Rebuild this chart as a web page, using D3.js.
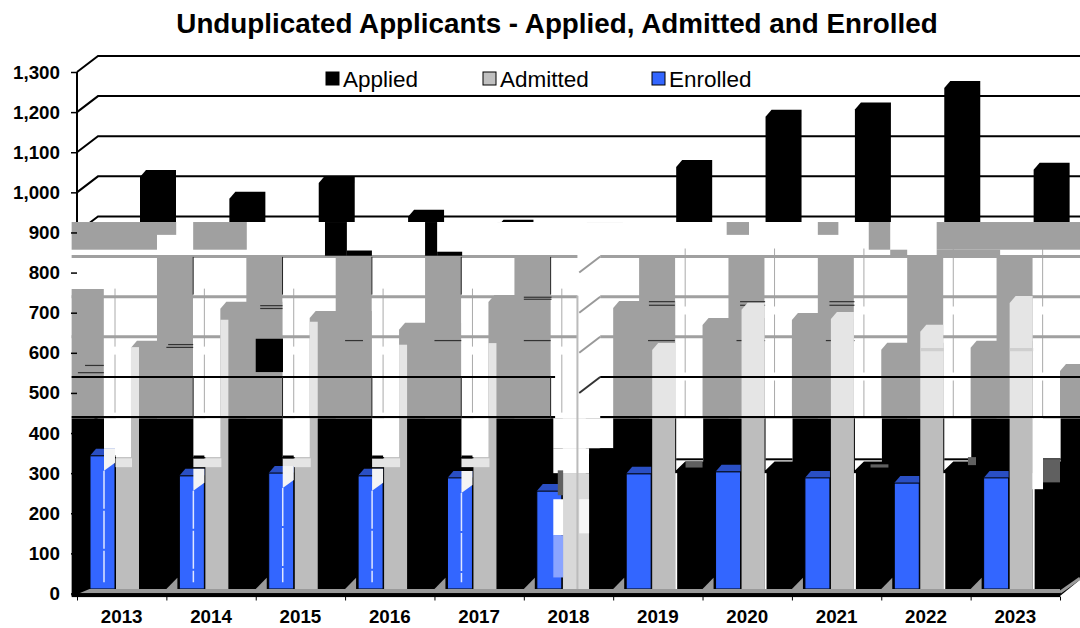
<!DOCTYPE html>
<html>
<head>
<meta charset="utf-8">
<script src="https://cdn.jsdelivr.net/npm/d3@7"></script>
<style>
body { margin: 0; background: #fff; }
text { font-family: "Liberation Sans", Arial, sans-serif; }
</style>
</head>
<body>
<div id="chart"></div>
<script>
const years = ['2013','2014','2015','2016','2017','2018','2019','2020','2021','2022','2023'];
const applied = [1027,973,1012,928,903,880,1052,1177,1195,1249,1045];
const admitted = [603,671,666,609,613,590,596,696,673,641,713];
const enrolled = [332,282,289,282,277,244,287,292,277,264,277];
const yTicks = [0,100,200,300,400,500,600,700,800,900,1000,1100,1200,1300];

// the source image is a corrupted redraw: these are what the glitch shows,
// read off the picture as category position / applicant count
const ghostTopsLeft = [630,727,704,675,744];
const ghostTopsRight = [729,687,699,625,630,572];
const grayPatches = [
  [-0.06,0.895,926,857],[0.895,1.11,926,894],[1.30,1.90,926,857],
  [7.27,7.52,926,894],[8.29,8.52,926,894],[8.86,9.10,926,857],[9.10,9.29,857,842],
  [9.62,11.23,926,857],[9.62,10.33,857,840],[-0.06,0.30,759,437]
];
const blackPatches = [
  [2.775,3.02,926,842],[3.02,3.30,855,842],[3.895,4.03,926,842],[4.03,4.31,852,842],
  [2.0,2.305,635,552]
];
const hatches = [
  [0.09,0.30,570],[0.01,0.30,552],[1.02,1.30,622],[1.0,1.30,615],[2.05,2.30,719],[2.05,2.30,712],
  [3.0,3.2,632],[4.0,4.3,632],[5.0,5.3,632],[5.0,5.31,740],[5.0,5.31,735],
  [6.4,6.69,729],[6.4,6.69,720],[6.39,6.69,632],[7.42,7.7,729],[7.42,7.7,720],[7.38,7.7,632],
  [8.42,8.7,729],[8.42,8.7,720],[8.38,8.7,632]
];
const ghostWall = [800,700,600,500];
const darkPatches = [
  [6.81,7.0,329,314],[8.88,9.08,322,314],[9.97,10.06,340,320],[10.81,11.0,335,277],[5.38,5.44,307,245]
];

const width = 1080, height = 628;
const axisX = 77, wallDx = 21, wallDy = 16;
const barFloor = 4.5, barW = 25, capDx = 6, capDy = 7;

const svg = d3.select('#chart')
              .append('svg')
              .attr('width',width)
              .attr('height',height)
              .style('display','block');

let x = d3.scaleLinear().domain([0,11]).range([axisX,1060]);
let y = d3.scaleLinear().domain([0,1300]).range([593.5,72]);
let bandTop = y(926), bandBottom = y(437);

function rects(data, fill) {
  svg.append('g').selectAll('rect')
     .data(data)
     .enter()
     .append('rect')
     .attr('x',d=>Math.max(0,x(d[0])))
     .attr('width',d=>x(d[1])-x(d[0]))
     .attr('y',d=>y(d[2]))
     .attr('height',d=>y(d[3])-y(d[2]))
     .style('fill',fill);
}

// 3d column with the cut top-left corner, drawn from its front top
function column(left, top, bottom, w) {
  return [[left,top],[left+capDx,top-capDy],[left+w,top-capDy],[left+w,bottom],[left,bottom]].join(' ');
}

// title
svg.append('text')
   .attr('x',557)
   .attr('y',33)
   .style('text-anchor','middle')
   .style('font-weight','bold')
   .style('font-size','27.8px')
   .text('Unduplicated Applicants - Applied, Admitted and Enrolled');

// back wall gridlines
let grid = svg.append('g');
yTicks.filter(d=>d>0).forEach(d=>{
  grid.append('path')
      .attr('d','M'+axisX+','+y(d)+'L'+(axisX+wallDx)+','+(y(d)-wallDy)+'L'+width+','+(y(d)-wallDy))
      .style('fill','none')
      .style('stroke','#000')
      .style('stroke-width',2);
});
grid.append('line')
    .attr('x1',axisX).attr('x2',axisX)
    .attr('y1',y(1300)).attr('y2',bandTop)
    .style('stroke','#000').style('stroke-width',2);

// applied columns, only their tops survive above the band
svg.append('g').selectAll('polygon')
   .data(applied)
   .enter()
   .append('polygon')
   .attr('points',(d,i)=>column(x(i)+63,y(d)-barFloor,bandTop,36))
   .style('fill','#000');

// wiped band and black lower part
svg.append('rect')
   .attr('x',x(-0.06)).attr('y',bandTop)
   .attr('width',width).attr('height',bandBottom-bandTop)
   .style('fill','#fff');
svg.append('polygon')
   .attr('points',[[x(-0.06),bandBottom],[width,bandBottom],[width,y(34)],[x(11),y(-6)],[x(-0.06),y(-6)]].join(' '))
   .style('fill','#000');

// thin leftover verticals
svg.append('g').selectAll('line')
   .data(years)
   .enter()
   .append('line')
   .attr('x1',(d,i)=>x(i)+(i<6?38:72))
   .attr('x2',(d,i)=>x(i)+(i<6?38:72))
   .attr('y1',(d,i)=>i<6?y(760):y(860))
   .attr('y2',bandBottom)
   .style('stroke','#aaa')
   .style('stroke-dasharray','58,8');

// ghost wall in the 2018 gap
svg.append('g').selectAll('line')
   .data(ghostWall)
   .enter()
   .append('line')
   .attr('x1',x(5.62)).attr('x2',x(5.62)+wallDx)
   .attr('y1',d=>y(d)).attr('y2',d=>y(d)-wallDy)
   .style('stroke',d=>d==500?'#333':'#999')
   .style('stroke-width',2);

// gridlines through the band
[800,700,600].forEach(d=>{
  svg.append('path')
     .attr('d','M'+x(-0.06)+','+(y(d)-wallDy)+'H'+x(5.6)+'M'+(x(5.62)+wallDx)+','+(y(d)-wallDy)+'H'+width)
     .style('stroke','#a0a0a0').style('stroke-width',3);
});

rects(grayPatches,'#a0a0a0');
rects(blackPatches,'#000');

// ghost tall columns
let tall = ghostTopsLeft.map((d,i)=>i+0.895).concat(ghostTopsRight.slice(0,5).map((d,i)=>i+6.29));
svg.append('g').selectAll('rect')
   .data(tall)
   .enter()
   .append('rect')
   .attr('x',d=>x(d))
   .attr('width',36)
   .attr('y',y(839))
   .attr('height',y(437)-y(839))
   .style('fill','#a0a0a0');

// ghost short columns
let ghosts = ghostTopsLeft.map((d,i)=>({pos:i+0.604,v:d}))
   .concat(ghostTopsRight.map((d,i)=>({pos:i+6,v:d})));
svg.append('g').selectAll('polygon')
   .data(ghosts)
   .enter()
   .append('polygon')
   .attr('points',d=>column(x(d.pos),y(d.v)+capDy,bandBottom,62))
   .style('fill','#a0a0a0');

// second black block sits on top of the gray
rects(blackPatches.slice(4),'#000');
rects(hatches.map(d=>[d[0],d[1],d[2],d[2]-3]),'#333');

// admitted columns: washed in the band, plain below. first five only show a sliver up there
svg.append('g').selectAll('polygon')
   .data(admitted)
   .enter()
   .append('polygon')
   .filter((d,i)=>i!=5)
   .attr('points',function(d){
     let i = admitted.indexOf(d);
     return i<5 ? [[x(i)+54,y(d)-barFloor],[x(i)+62,y(d)-barFloor],[x(i)+62,bandBottom],[x(i)+54,bandBottom]].join(' ')
                : column(x(i)+39,y(d)-barFloor,bandBottom,23);
   })
   .style('fill','#e5e5e5');
svg.append('g').selectAll('rect')
   .data(admitted)
   .enter()
   .append('rect')
   .attr('x',(d,i)=>x(i)+39)
   .attr('y',bandBottom)
   .attr('width',23)
   .attr('height',y(0)-barFloor-bandBottom)
   .style('fill','#bdbdbd');

// black lines still crossing the band
[500,400].forEach(d=>{
  svg.append('path')
     .attr('d','M'+x(-0.06)+','+(y(d)-wallDy)+'H'+(x(5.35))+'M'+(x(5.62)+wallDx)+','+(y(d)-wallDy)+'H'+width)
     .style('stroke','#000').style('stroke-width',2);
});
[1.30,2.30,3.30,4.30,5.30].forEach(d=>{
  svg.append('line').attr('x1',x(d)).attr('x2',x(d))
     .attr('y1',y(839)).attr('y2',y(745)).style('stroke','#222');
  svg.append('line').attr('x1',x(d)).attr('x2',x(d))
     .attr('y1',y(540)).attr('y2',y(437)).style('stroke','#222');
});

// second admitted tops on 2022 and 2023
rects([[9.44,9.70,612,604],[10.44,10.70,612,604]],'#cfcfcf');

// white wipes in the black over the first five admitted columns, gaps on the later ones
svg.append('g').selectAll('rect')
   .data(years.slice(0,5))
   .enter()
   .append('rect')
   .attr('x',(d,i)=>x(i)+27)
   .attr('y',bandBottom)
   .attr('width',27)
   .attr('height',y(340)-bandBottom)
   .style('fill','#fff');
svg.append('g').selectAll('rect')
   .data(years.slice(0,5))
   .enter()
   .append('rect')
   .attr('x',(d,i)=>x(i)+27)
   .attr('y',y(337))
   .attr('width',28)
   .attr('height',y(315)-y(337))
   .style('fill','#e5e5e5');
svg.append('g').selectAll('rect')
   .data(years.slice(0,5))
   .enter()
   .append('rect')
   .attr('x',(d,i)=>x(i)+27)
   .attr('y',y(344))
   .attr('width',11)
   .attr('height',3)
   .style('fill','#000');

svg.append('g').selectAll('polygon')
   .data(years.slice(6))
   .enter()
   .append('polygon')
   .attr('points',(d,i)=>{
     let l = x(i+6)+63;
     return [[l,bandBottom],[l+27,bandBottom],[l+27,y(329)],[l+9,y(329)],[l,y(307)]].join(' ');
   })
   .style('fill','#fff');
svg.append('g').selectAll('rect')
   .data(years.slice(6))
   .enter()
   .append('rect')
   .attr('x',(d,i)=>x(i+6)+63)
   .attr('y',y(337))
   .attr('width',27)
   .attr('height',2)
   .style('fill','#000');
svg.append('g').selectAll('rect')
   .data(years.slice(6))
   .enter()
   .append('rect')
   .attr('x',(d,i)=>x(i+6)+62)
   .attr('y',y(300))
   .attr('width',2)
   .attr('height',y(8)-y(300))
   .style('fill','#fff');

// enrolled columns
let enrolledTop = d=>y(d)-barFloor;
svg.append('g').selectAll('polygon')
   .data(enrolled)
   .enter()
   .append('polygon')
   .attr('points',(d,i)=>[[x(i)+13,enrolledTop(d)],[x(i)+13+capDx,enrolledTop(d)-capDy],[x(i)+13+barW,enrolledTop(d)-capDy],[x(i)+13+barW,enrolledTop(d)]].join(' '))
   .style('fill','#2a4fc4');
svg.append('g').selectAll('rect')
   .data(enrolled)
   .enter()
   .append('rect')
   .attr('x',(d,i)=>x(i)+13)
   .attr('y',d=>enrolledTop(d))
   .attr('width',barW)
   .attr('height',d=>y(0)-barFloor-enrolledTop(d))
   .style('fill','#3366ff')
   .style('stroke','#000')
   .style('stroke-width',1);

// wipe bites into the blue on the first five
svg.append('g').selectAll('polygon')
   .data(enrolled.slice(0,5))
   .enter()
   .append('polygon')
   .attr('points',(d,i)=>[[x(i)+27,y(d)-barFloor-7],[x(i)+38,y(d)-barFloor-7],[x(i)+38,y(d)-barFloor+7],[x(i)+27,y(d)-barFloor+15]].join(' '))
   .style('fill','#f4f4f4');
svg.append('g').selectAll('line')
   .data(enrolled.slice(0,5))
   .enter()
   .append('line')
   .attr('x1',(d,i)=>x(i)+27).attr('x2',(d,i)=>x(i)+27)
   .attr('y1',d=>y(d)-barFloor+15)
   .attr('y2',y(28))
   .style('stroke','#dfe6ff')
   .style('stroke-width',1.5)
   .style('stroke-dasharray','38,2');

// 2018 is the messy one
rects([[5.33,6.0,437,362],[5.33,5.73,362,300]],'#fff');
rects([[5.44,5.73,300,8]],'#d8d8d8');
rects([[5.33,5.44,235,145]],'#fff');
rects([[5.33,5.44,145,40]],'#8aa4ff');
rects([[5.62,5.73,235,150]],'#f6f6f6');
svg.append('polygon')
   .attr('points',[[x(5.73),y(347)],[x(5.86),y(362)],[x(6),y(362)],[x(6),y(300)],[x(5.73),y(300)]].join(' '))
   .style('fill','#000');
svg.append('line')
   .attr('x1',x(5.6)).attr('x2',x(5.6))
   .attr('y1',y(742)).attr('y2',y(8))
   .style('stroke','#bbb')
   .style('stroke-width',2);

rects([[10.69,10.81,437,260]],'#fff');
rects(darkPatches,'#606060');

// floor
svg.append('polygon')
   .attr('points',[[x(0.02),y(0)],[x(0.14),y(11)],[x(11),y(11)],[x(11),y(0)]].join(' '))
   .style('fill','#9a9a9a');
svg.append('g').selectAll('polygon')
   .data(years.map((d,i)=>i).slice(1))
   .enter()
   .append('polygon')
   .attr('points',d=>[[x(d),y(11)],[x(d)+11,y(39)],[x(d)+11,y(11)]].join(' '))
   .style('fill','#9a9a9a');
svg.append('line')
   .attr('x1',x(11)).attr('x2',width)
   .attr('y1',y(3)).attr('y2',y(38))
   .style('stroke','#9a9a9a')
   .style('stroke-width',3);
svg.append('rect')
   .attr('x',x(-0.06)).attr('y',y(1))
   .attr('width',x(11)-x(-0.06)).attr('height',4)
   .style('fill','#000');

// axes
let yAxis = d3.axisLeft(y).tickValues(yTicks).tickFormat(d3.format(',')).tickSize(6).tickPadding(11);
let xAxis = d3.axisBottom(x).tickValues(d3.range(0,12)).tickFormat('').tickSize(4);

let yAxisGroup = svg.append('g')
                    .attr('class','y axis')
                    .attr('transform','translate('+axisX+',0)')
                    .call(yAxis);
yAxisGroup.select('.domain').remove();
yAxisGroup.selectAll('line').style('stroke-width',1.5);
yAxisGroup.selectAll('text')
          .style('font-size','18.8px')
          .style('font-weight','bold')
          .style('fill','#000');

let xAxisGroup = svg.append('g')
                    .attr('class','x axis')
                    .attr('transform','translate(0,'+(y(0)+3)+')')
                    .call(xAxis);
xAxisGroup.select('.domain').remove();

svg.append('g').selectAll('text')
   .data(years)
   .enter()
   .append('text')
   .attr('x',(d,i)=>x(i+0.5))
   .attr('y',623)
   .style('text-anchor','middle')
   .style('font-weight','bold')
   .style('font-size','18.8px')
   .text(d=>d);

// legend
const legendNames = ['Applied','Admitted','Enrolled'];
const legendColors = ['#000','#c0c0c0','#3366ff'];
const legendX = [326,483,652];
let legend = svg.append('g').selectAll('g')
   .data(legendNames)
   .enter()
   .append('g')
   .attr('transform',(d,i)=>'translate('+legendX[i]+',72)');
legend.append('rect')
      .attr('width',13).attr('height',13)
      .style('fill',(d,i)=>legendColors[i])
      .style('stroke','#000');
legend.append('text')
      .attr('x',17).attr('y',14.5)
      .style('font-size','22.5px')
      .text(d=>d);
</script>
</body>
</html>
